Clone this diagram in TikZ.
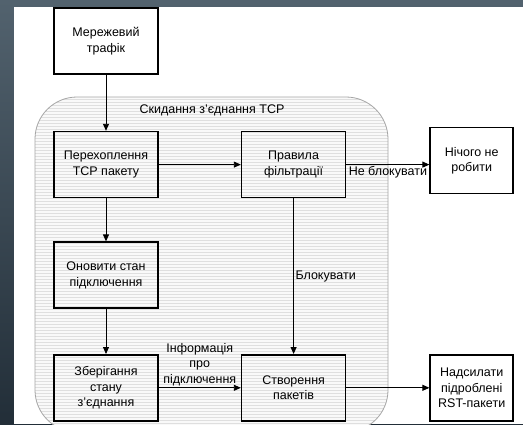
\documentclass[tikz,border=0pt]{standalone}
\usepackage{fontspec}
\setmainfont{Liberation Sans}
\usetikzlibrary{arrows.meta,positioning,patterns}
\definecolor{slatetop}{RGB}{82,98,110}
\definecolor{slatebot}{RGB}{34,46,56}
\begin{document}
\begin{tikzpicture}[x=1pt,y=-1pt,font=\fontsize{12.5}{15.5}\selectfont,
  bx/.style={draw,line width=1.6pt,align=center,minimum width=104pt,minimum height=66pt,inner sep=2pt},
  sbx/.style={bx,minimum width=83pt},
  arr/.style={-{Triangle[length=7pt,width=6pt]},line width=0.9pt},
  lbl/.style={align=center,inner sep=1.5pt}]
  \useasboundingbox (0,0) rectangle (523,424);
  \shade[top color=slatetop,bottom color=slatebot] (0,0) rectangle (523,424);
  \fill[white] (14,7) rectangle (523,424);
  % background of the TCP part
  \path[draw=gray!70,line width=0.8pt,rounded corners=42pt,preaction={fill=gray!5},
    pattern=horizontal lines,pattern color=gray!25] (35,97) rectangle (388,432);
  \node(t) at (212,110){Скидання з’єднання TCP};
  \node[bx](a) at (106,41){Мережевий\\трафік};
  \node[bx,below=56pt of a](b){Перехоплення\\TCP пакету};
  \node[bx,right=82pt of b](c){Правила\\фільтрації};
  \node[sbx,right=83pt of c,yshift=4pt](d){Нічого не\\робити};
  \node[bx,below=43pt of b](e){Оновити стан\\підключення};
  \node[bx,below=45pt of e](f){Зберігання\\стану\\з’єднання};
  \node[bx,right=82pt of f](g){Створення\\пакетів};
  \node[sbx,right=83pt of g](h){Надсилати\\підроблені\\RST-пакети};
  \draw[arr](a)--(b);\draw[arr](b)--(c);\draw[arr](b)--(e);\draw[arr](e)--(f);
  \draw[arr](c.east)--(c.east-|d.west) node[lbl,midway,below]{Не блокувати};
  \draw[arr](c)--(g) node[lbl,midway,right]{Блокувати};
  \draw[arr](f)--(g) node[lbl,midway,above]{Інформація\\про\\підключення};
  \draw[arr](g)--(h);
\end{tikzpicture}
\end{document}
